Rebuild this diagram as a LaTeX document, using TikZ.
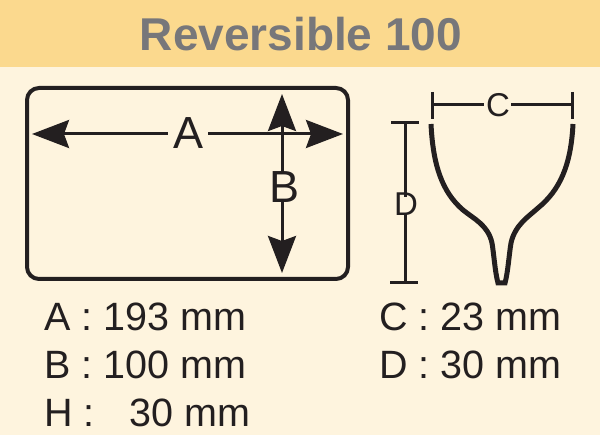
\documentclass[tikz,border=0pt]{standalone}
\usepackage{fontspec}
\setmainfont{Liberation Sans}
\usepackage{tikz}
\usetikzlibrary{arrows.meta,positioning}
\definecolor{band}{HTML}{FBD98E}
\definecolor{paper}{HTML}{FEF4DE}
\definecolor{ink}{HTML}{231F20}
\definecolor{head}{HTML}{77777A}
\tikzstyle{dimtext}=[font=\fontsize{45}{45}\selectfont,text=ink,inner sep=0pt]
\tikzstyle{smalltext}=[dimtext,font=\fontsize{33}{33}\selectfont]
\tikzstyle{spec}=[dimtext,font=\fontsize{39.5}{40}\selectfont,anchor=base west]
\tikzstyle{dimline}=[draw=ink,line width=3pt]
\tikzstyle{bigline}=[draw=ink,line width=3pt,>={Stealth[length=37pt,width=28pt,inset=5pt]}]

\begin{document}
\begin{tikzpicture}[x=1pt,y=-1pt]
        \useasboundingbox (0,0) rectangle (600,435);
        \fill[paper] (0,0) rectangle (600,435);
        \fill[band] (0,0) rectangle (600,67);
        \node (title) at (301,34) [inner sep=0pt,text=head,font=\fontsize{46}{46}\selectfont\bfseries] {Reversible 100};
        % box seen from above
        \draw[draw=ink,line width=4pt,rounded corners=12pt] (27,88) rectangle (348,279);
        \node (lA) at (189,133) [dimtext] {A};
        \node (lB) at (285,187) [dimtext] {B};
        \coordinate (aleft) at (32,134);
        \coordinate (aright) at (343,134);
        \coordinate (btop) at (282,94);
        \coordinate (bbottom) at (282,273);
        \draw[bigline,<-] (aleft) -- ([xshift=-6pt]lA.west |- aleft);
        \draw[bigline,->] ([xshift=4pt]lA.east |- aright) -- (aright);
        \draw[bigline,<-] (btop) -- ([yshift=-1pt]btop |- lB.north);
        \draw[bigline,->] ([yshift=3pt]bbottom |- lB.south) -- (bbottom);
        % section through the box
        \draw[draw=ink,line width=5pt] (431,124) .. controls (433,165) and (442,192) .. (463,210)
                .. controls (474,219) and (488,225) .. (492,243)
                .. controls (494,255) and (495,272) .. (498,283) -- (505,283)
                .. controls (508,272) and (509,255) .. (511,243)
                .. controls (515,225) and (528,217) .. (538,208)
                .. controls (560,190) and (571,165) .. (573,124);
        \node (lC) at (498,105) [smalltext] {C};
        \node (lD) at (406,204) [smalltext] {D};
        \coordinate (ctl) at (432,92);
        \coordinate (cbl) at (432,119);
        \coordinate (ctr) at (572,92);
        \coordinate (cbr) at (572,119);
        \coordinate (cl) at (432,105);
        \coordinate (cr) at (572,105);
        \coordinate (dtl) at (391,123);
        \coordinate (dtr) at (419,123);
        \coordinate (dbl) at (390,283);
        \coordinate (dbr) at (418,283);
        \coordinate (dt) at (405,123);
        \coordinate (db) at (405,283);
        \draw[dimline] (ctl) -- (cbl);
        \draw[dimline] (ctr) -- (cbr);
        \draw[dimline] (cl) -- ([xshift=-2pt]lC.west |- cl);
        \draw[dimline] ([xshift=1pt]lC.east |- cr) -- (cr);
        \draw[dimline] (dtl) -- (dtr);
        \draw[dimline] (dbl) -- (dbr);
        \draw[dimline] (dt) -- ([yshift=-5pt]dt |- lD.north);
        \draw[dimline] ([yshift=2pt]db |- lD.south) -- (db);
        % sizes
        \node (sA) at (44,331) [spec] {A : 193 mm};
        \node (sB) at (44,379) [spec] {B : 100 mm};
        \node (sH) at (44,427) [spec] {H :\ \ \ \hspace{2pt}30 mm};
        \node (sC) at (379,331) [spec] {C : 23 mm};
        \node (sD) at (379,379) [spec] {D : 30 mm};
      \end{tikzpicture}
\end{document}
